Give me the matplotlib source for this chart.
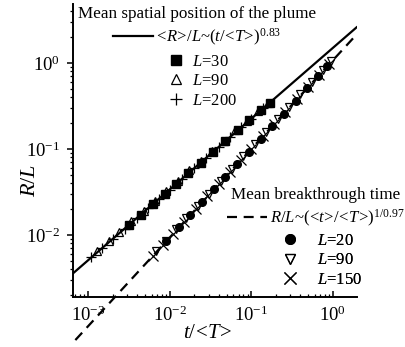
import numpy as np
import matplotlib.pyplot as plt

plt.rcParams['font.family'] = 'Liberation Serif'
plt.rcParams['mathtext.fontset'] = 'custom'
plt.rcParams['mathtext.rm'] = 'Liberation Serif'
plt.rcParams['mathtext.it'] = 'Liberation Serif:italic'
plt.rcParams['mathtext.bf'] = 'Liberation Serif:bold'

# fitted power laws (end points)
fit_plume_t = [6.6e-4, 1.95]
fit_plume_R = [3.6e-3, 2.6]
fit_btc_t = [7e-4, 1.9]
fit_btc_R = [6e-4, 2.09]

# mean spatial position of the plume
plume_t_30 = [0.0032, 0.0045, 0.0063, 0.0088, 0.012, 0.017, 0.024, 0.034,
              0.048, 0.068, 0.095, 0.13, 0.17]
plume_R_30 = [0.0130, 0.0173, 0.0228, 0.0302, 0.0391, 0.0521, 0.0693, 0.0926,
              0.123, 0.165, 0.217, 0.282, 0.345]
plume_t_90 = [0.0013, 0.0018, 0.0024, 0.0034, 0.0048, 0.0066, 0.009, 0.0125,
              0.0175, 0.024, 0.033, 0.046, 0.064, 0.088, 0.12, 0.16]
plume_R_90 = [0.0065, 0.0085, 0.0108, 0.0144, 0.0192, 0.0250, 0.0323, 0.0424,
              0.0562, 0.0729, 0.095, 0.125, 0.164, 0.214, 0.277, 0.34]
plume_t_200 = [0.0011, 0.0015, 0.002, 0.0028, 0.004, 0.0055, 0.0075, 0.01,
               0.014, 0.02, 0.028, 0.04, 0.055, 0.075, 0.1, 0.14]
plume_R_200 = [0.0055, 0.0071, 0.0090, 0.0118, 0.0158, 0.0205, 0.0265, 0.0335,
               0.0445, 0.060, 0.079, 0.106, 0.138, 0.178, 0.226, 0.298]

# mean breakthrough time
btc_t_20 = [0.009, 0.013, 0.018, 0.025, 0.035, 0.048, 0.067, 0.093, 0.13,
            0.18, 0.25, 0.35, 0.48, 0.66, 0.85]
btc_R_20 = [0.0084, 0.0123, 0.0171, 0.0240, 0.0340, 0.0471, 0.0665, 0.0931,
            0.132, 0.184, 0.258, 0.366, 0.506, 0.703, 0.912]
btc_t_90 = [0.0068, 0.009, 0.012, 0.016, 0.022, 0.03, 0.042, 0.058, 0.08,
            0.11, 0.15, 0.21, 0.29, 0.4, 0.55, 0.75, 0.95]
btc_R_90 = [0.0065, 0.0086, 0.0116, 0.0156, 0.0217, 0.0299, 0.0423, 0.059,
            0.0822, 0.114, 0.157, 0.222, 0.31, 0.432, 0.60, 0.826, 1.05]
btc_t_150 = [0.0062, 0.0082, 0.011, 0.015, 0.021, 0.029, 0.04, 0.055, 0.075,
             0.1, 0.14, 0.19, 0.26, 0.36, 0.5, 0.68, 0.9]
btc_R_150 = [0.0057, 0.0076, 0.0103, 0.0142, 0.0201, 0.0281, 0.0391, 0.0542,
             0.0746, 0.1005, 0.142, 0.195, 0.269, 0.377, 0.528, 0.725, 0.968]

W, H = 406, 347
fig = plt.figure(figsize=(W / 100, H / 100), dpi=100)
ax = fig.add_axes([73 / W, 1 - 297 / H, 284 / W, 293 / H])
ax.set_xscale('log')
ax.set_yscale('log')
ax.set_xlim(6.55e-4, 1.97)
ax.set_ylim(1.9e-3, 4.85)

ms = 6
fit1, = ax.plot(fit_plume_t, fit_plume_R, color='k', lw=1.6, zorder=3)
fit2, = ax.plot(fit_btc_t, fit_btc_R, color='k', lw=1.6, dashes=(4.5, 3),
                clip_on=False, zorder=3)
p30, = ax.plot(plume_t_30, plume_R_30, 's', color='k', ms=ms - 0.5, zorder=4)
p90, = ax.plot(plume_t_90, plume_R_90, '^', mfc='none', mec='k', mew=0.9, ms=ms, zorder=4)
p200, = ax.plot(plume_t_200, plume_R_200, '+', color='k', mew=0.9, ms=ms + 1, zorder=4)
b20, = ax.plot(btc_t_20, btc_R_20, 'o', color='k', ms=ms - 0.5, zorder=4)
b90, = ax.plot(btc_t_90, btc_R_90, 'v', mfc='none', mec='k', mew=0.9, ms=ms, zorder=4)
b150, = ax.plot(btc_t_150, btc_R_150, 'x', color='k', mew=0.9, ms=ms + 1, zorder=4)

for side in ['top', 'right']:
    ax.spines[side].set_visible(False)
for side in ['left', 'bottom']:
    ax.spines[side].set_linewidth(1.4)

ax.tick_params(axis='x', which='both', direction='in', labelsize=13.5, pad=6)
ax.tick_params(axis='y', which='both', direction='out', labelsize=13.5, pad=5)
ax.tick_params(which='major', length=4.5, width=1.1)
ax.tick_params(which='minor', length=2.5, width=0.9)

ax.set_ylabel(r'$R/L$', fontsize=16)
ax.yaxis.set_label_coords((40 - 73) / 284, (297 - 180) / 293)
ax.set_xlabel(r'$t/\!<\!T\!>$', fontsize=15)
ax.xaxis.set_label_coords((208 - 73) / 284, -(324 - 297) / 293)


def add_legend(handles, labels, x, y, loc, **kw):
    leg = ax.legend(handles, labels, loc=loc, bbox_to_anchor=(x / W, 1 - y / H),
                    bbox_transform=fig.transFigure, frameon=False, borderpad=0,
                    borderaxespad=0, fontsize=12, title_fontsize=12.3, **kw)
    ax.add_artist(leg)
    return leg


add_legend([fit1], [r'$\!<\!R\!>\!/L$~$(t/\!<\!T\!>\!)^{0.83}$'], 197, 6,
           'upper center', title='Mean spatial position of the plume',
           handlelength=2.4, handletextpad=0.2, labelspacing=0.3)
add_legend([p30, p90, p200], [r'$L$=30', r'$L$=90', r'$L$=200'], 168, 54,
           'upper left', handlelength=1, handletextpad=0.45, labelspacing=0.2,
           markerscale=1.25)
add_legend([fit2], [r'$R/L$~$(\!<\!t\!>\!/\!<\!T\!>\!)^{1/0.97}$'], 316, 187,
           'upper center', title='Mean breakthrough time',
           handlelength=2.4, handletextpad=0.2, labelspacing=0.3)
add_legend([b20, b90, b150], [r'$L$=20', r'$L$=90', r'$L$=150'], 282, 233,
           'upper left', handlelength=1, handletextpad=1.1, labelspacing=0.2,
           markerscale=1.25)

fig.savefig('out.png', dpi=100)
